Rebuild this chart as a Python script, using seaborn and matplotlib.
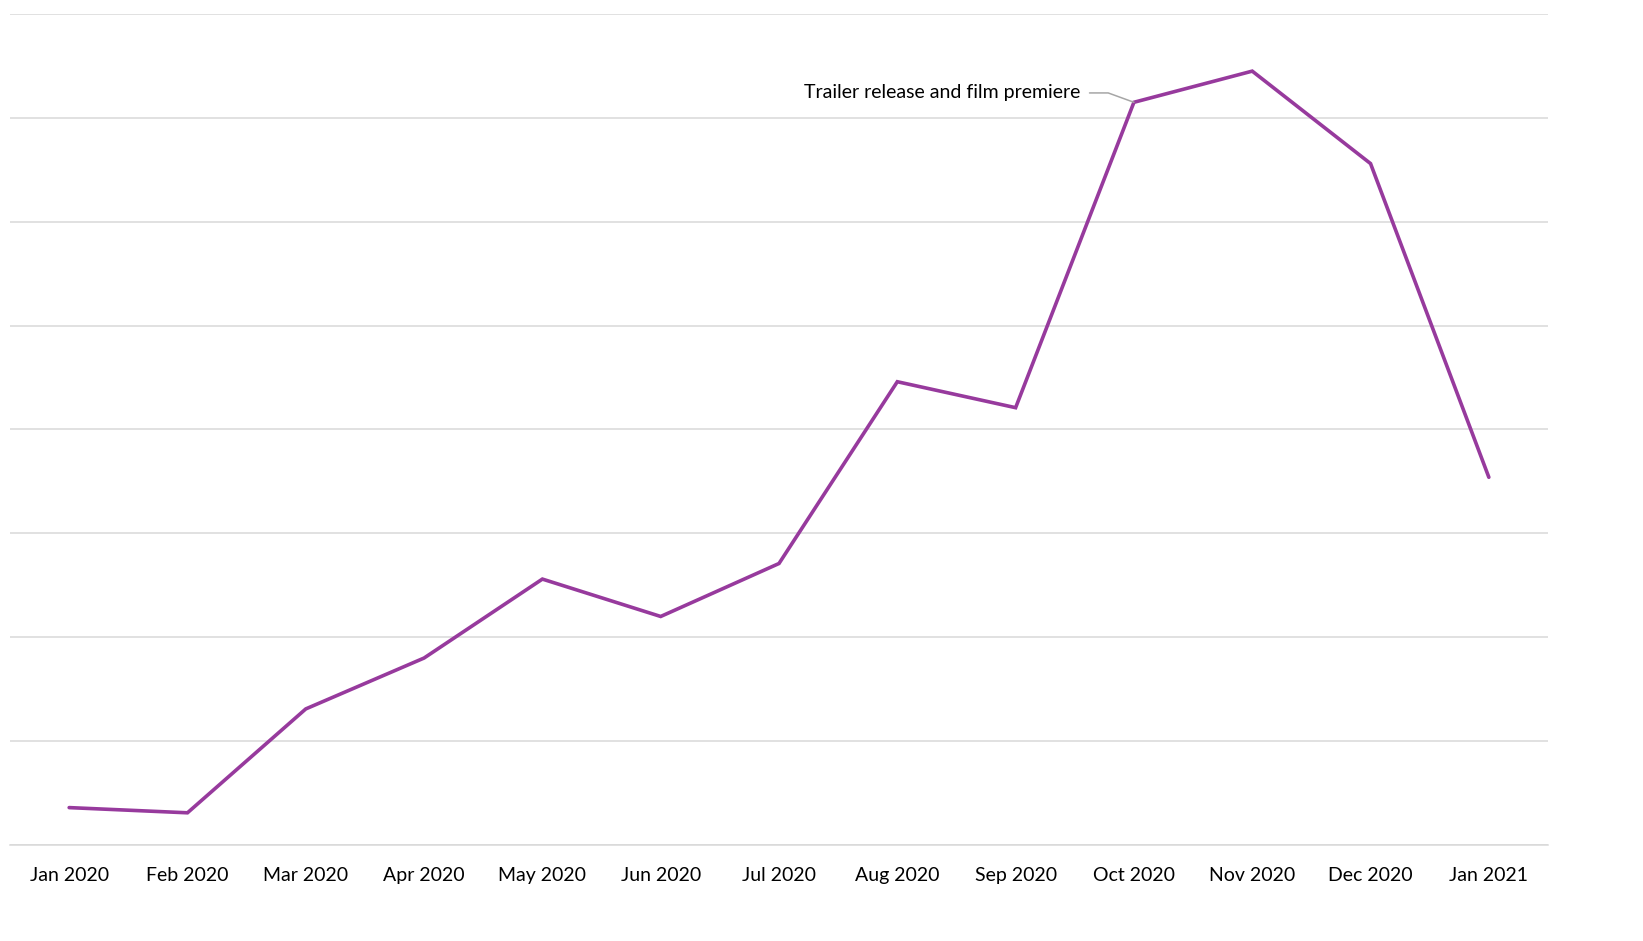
import matplotlib
matplotlib.use("Agg")
import matplotlib.pyplot as plt
import pandas as pd
import seaborn as sns

months = ["Jan 2020", "Feb 2020", "Mar 2020", "Apr 2020", "May 2020", "Jun 2020",
          "Jul 2020", "Aug 2020", "Sep 2020", "Oct 2020", "Nov 2020", "Dec 2020",
          "Jan 2021"]
interest = [3.6, 3.1, 13.1, 18.0, 25.6, 22.0, 27.1, 44.6, 42.1, 71.5, 74.5, 65.6, 35.4]
note_text = "Trailer release and film premiere"
note_month = "Oct 2020"

LINE_COLOR = "#973A9D"
GRID_COLOR = "#D9D9D9"

sns.set_theme(style="white")
plt.rcParams["font.family"] = ["Lato", "DejaVu Sans"]

df = pd.DataFrame({"month": months, "interest": interest})
df["pos"] = range(len(df))

fig = plt.figure(figsize=(16.43, 9.41), dpi=100)
ax = fig.add_axes([10 / 1643, (941 - 845) / 941, 1538 / 1643, 831 / 941])

sns.lineplot(data=df, x="pos", y="interest", color=LINE_COLOR, linewidth=2.6,
             ax=ax, solid_capstyle="round", solid_joinstyle="miter")

ax.set_xlim(-0.5, len(months) - 0.5)
ax.set_ylim(0, 80)
ax.set_yticks(range(0, 81, 10))
ax.yaxis.grid(True, color=GRID_COLOR, linewidth=1.1)
ax.set_axisbelow(True)
ax.tick_params(axis="y", left=False, labelleft=False)
ax.set_xticks(df["pos"])
ax.set_xticklabels(months, fontsize=14, color="#000000")
ax.tick_params(axis="x", bottom=False, pad=10)
ax.set_xlabel("")
ax.set_ylabel("")
for side in ["top", "left", "right"]:
    ax.spines[side].set_visible(False)
ax.spines["bottom"].set_color(GRID_COLOR)
ax.spines["bottom"].set_linewidth(1.1)

i = months.index(note_month)
ax.annotate(note_text, xy=(i, interest[i]), xytext=(i - 0.45, interest[i] + 0.9),
            ha="right", va="center", fontsize=14, color="#000000",
            arrowprops=dict(arrowstyle="-", color="#A6A6A6", linewidth=1.1,
                            connectionstyle="angle,angleA=0,angleB=160,rad=0",
                            shrinkA=4, shrinkB=0))

fig.savefig("out.png", dpi=100, facecolor="white")
